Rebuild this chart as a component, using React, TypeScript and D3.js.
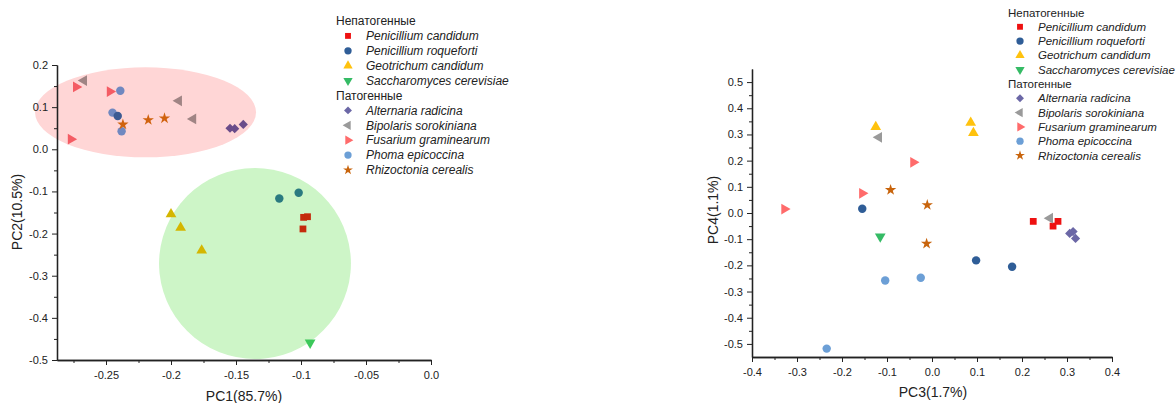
import React, { useEffect, useRef } from 'react';
import * as d3 from 'd3';

// species (legend order)
const speciesNames = [
  'Penicillium candidum',
  'Penicillium roqueforti',
  'Geotrichum candidum',
  'Saccharomyces cerevisiae',
  'Alternaria radicina',
  'Bipolaris sorokiniana',
  'Fusarium graminearum',
  'Phoma epicoccina',
  'Rhizoctonia cerealis',
];
const groupHeads = ['Непатогенные', 'Патогенные'];
const groupOf = [0, 0, 0, 0, 1, 1, 1, 1, 1];
const shapes = ['square', 'circle', 'up', 'down', 'diamond', 'left', 'right', 'circle', 'star', 'circle'];
const legendColors = ['#ee1111', '#2f5d97', '#ffc20e', '#35bb65', '#6b67a6', '#9a9a9a', '#ff6b6b', '#6c9fd6', '#c8640c'];
// left panel uses its own muted palette; index 9 = extra dark circle
const leftColors = ['#c42a0c', '#2a7a80', '#d4b600', '#3cc85a', '#6a4c8a', '#a08484', '#f45c64', '#7088c0', '#d0620e', '#3c5a92'];

// PC1 / PC2
const leftSpecies = [6, 6, 6, 5, 5, 5, 7, 7, 7, 9, 8, 8, 8, 4, 4, 4, 1, 1, 0, 0, 0, 2, 2, 2, 3];
const pc1 = [-0.273, -0.247, -0.277, -0.267, -0.194, -0.183, -0.239, -0.245, -0.238, -0.241, -0.237, -0.2175, -0.205, -0.1546, -0.151, -0.1444, -0.1167, -0.1018, -0.098, -0.095, -0.0985, -0.2, -0.1926, -0.1764, -0.093];
const pc2 = [0.148, 0.137, 0.024, 0.163, 0.115, 0.072, 0.139, 0.087, 0.043, 0.079, 0.059, 0.0695, 0.0735, 0.05, 0.049, 0.059, -0.117, -0.103, -0.1615, -0.16, -0.189, -0.154, -0.186, -0.24, -0.459];

// cluster ellipses: cx, cy, rx, ry (data units), rotation
const ellipseCx = [-0.2196, -0.1354];
const ellipseCy = [0.0877, -0.271];
const ellipseRx = [0.085, 0.0738];
const ellipseRy = [0.1068, 0.2266];
const ellipseRot = [0, -6];
const ellipseFill = ['#ffd6d6', '#cdf5c7'];

// PC3 / PC4
const rightSpecies = [0, 0, 0, 1, 1, 1, 2, 2, 2, 3, 4, 4, 4, 5, 5, 6, 6, 6, 7, 7, 7, 8, 8, 8];
const pc3 = [0.225, 0.269, 0.28, -0.155, 0.098, 0.178, -0.125, 0.086, 0.092, -0.115, 0.306, 0.3135, 0.319, -0.118, 0.262, -0.0415, -0.155, -0.328, -0.104, -0.025, -0.234, -0.092, -0.0105, -0.012];
const pc4 = [-0.032, -0.05, -0.032, 0.0165, -0.181, -0.205, 0.329, 0.345, 0.306, -0.09, -0.078, -0.071, -0.097, 0.289, -0.02, 0.1935, 0.075, 0.015, -0.258, -0.247, -0.518, 0.088, 0.0305, -0.117];

const leftXTicks = [-0.25, -0.2, -0.15, -0.1, -0.05, 0];
const leftXMinor = [-0.275, -0.225, -0.175, -0.125, -0.075, -0.025];
const leftYTicks = [-0.5, -0.4, -0.3, -0.2, -0.1, 0, 0.1, 0.2];
const leftYMinor = [-0.45, -0.35, -0.25, -0.15, -0.05, 0.05, 0.15];
const rightXTicks = [-0.4, -0.3, -0.2, -0.1, 0, 0.1, 0.2, 0.3, 0.4];
const rightXMinor = [-0.35, -0.25, -0.15, -0.05, 0.05, 0.15, 0.25, 0.35];
const rightYTicks = [-0.5, -0.4, -0.3, -0.2, -0.1, 0, 0.1, 0.2, 0.3, 0.4, 0.5];
const rightYMinor = [-0.45, -0.35, -0.25, -0.15, -0.05, 0.05, 0.15, 0.25, 0.35, 0.45];

const FONT = '"Liberation Sans", Arial, sans-serif';

const symbolPath = (shape: string, k: number) => {
  const gen = d3.symbol();
  if (shape === 'square') return { d: gen.type(d3.symbolSquare).size(46 * k)(), rot: 0 };
  if (shape === 'circle') return { d: gen.type(d3.symbolCircle).size(56 * k)(), rot: 0 };
  if (shape === 'diamond') return { d: gen.type(d3.symbolSquare).size(42 * k)(), rot: 45 };
  if (shape === 'star') return { d: gen.type(d3.symbolStar).size(40 * k)(), rot: 0 };
  const tri = gen.type(d3.symbolTriangle).size(50 * k)();
  const rot = shape === 'up' ? 0 : shape === 'down' ? 180 : shape === 'left' ? -90 : 90;
  return { d: tri, rot };
};

const fmt = (v: number) => v.toFixed(Math.abs(v * 10 - Math.round(v * 10)) > 1e-6 ? 2 : 1);

function drawAxes(g: any, x: any, y: any, xt: number[], xm: number[], yt: number[], ym: number[], h: number) {
  const style = (sel: any) => {
    sel.selectAll('text').style('font-family', FONT).style('font-size', '11px').style('fill', '#222');
    sel.selectAll('line').attr('stroke', '#222');
    sel.select('.domain').attr('stroke', '#222').attr('stroke-width', 1.3);
  };
  g.append('g').attr('transform', `translate(0,${h})`)
    .call(d3.axisBottom(x).tickValues(xm).tickSize(3).tickSizeOuter(0).tickFormat(() => ''))
    .call(style);
  g.append('g').attr('transform', `translate(0,${h})`)
    .call(d3.axisBottom(x).tickValues(xt).tickSize(5).tickPadding(6).tickSizeOuter(0).tickFormat(fmt as any))
    .call(style);
  g.append('g')
    .call(d3.axisLeft(y).tickValues(ym).tickSize(3).tickSizeOuter(0).tickFormat(() => ''))
    .call(style);
  g.append('g')
    .call(d3.axisLeft(y).tickValues(yt).tickSize(5).tickPadding(4).tickSizeOuter(0).tickFormat(fmt as any))
    .call(style);
}

const Legend = ({ x, y, step, fontSize }: { x: number; y: number; step: number; fontSize: number }) => {
  const rows: React.ReactNode[] = [];
  let row = 0;
  let lastGroup = -1;
  speciesNames.forEach((name, i) => {
    if (groupOf[i] !== lastGroup) {
      lastGroup = groupOf[i];
      rows.push(
        <text key={'h' + i} x={x} y={y + row * step} dy="0.35em" fontSize={fontSize} fill="#222">{groupHeads[lastGroup]}</text>
      );
      row++;
    }
    const s = symbolPath(shapes[i], 0.75);
    rows.push(
      <g key={i}>
        <path d={s.d!} transform={`translate(${x + 12},${y + row * step}) rotate(${s.rot})`} fill={legendColors[i]} />
        <text x={x + 30} y={y + row * step} dy="0.35em" fontSize={fontSize} fontStyle="italic" fill="#222">{name}</text>
      </g>
    );
    row++;
  });
  return <g fontFamily={FONT}>{rows}</g>;
};

export default function App() {
  const leftRef = useRef<SVGGElement>(null);
  const rightRef = useRef<SVGGElement>(null);

  // left panel geometry
  const L = { x0: 57, x1: 431, y0: 65, y1: 360 };
  const lx = d3.scaleLinear().domain([-0.2877, 0]).range([0, L.x1 - L.x0]);
  const ly = d3.scaleLinear().domain([-0.5, 0.2]).range([L.y1 - L.y0, 0]);
  // right panel geometry
  const R = { x0: 752, x1: 1112, y0: 69, y1: 357 };
  const rx = d3.scaleLinear().domain([-0.4, 0.4]).range([0, R.x1 - R.x0]);
  const ry = d3.scaleLinear().domain([-0.55, 0.55]).range([R.y1 - R.y0, 0]);

  useEffect(() => {
    const gl = d3.select(leftRef.current);
    gl.selectAll('*').remove();
    drawAxes(gl, lx, ly, leftXTicks, leftXMinor, leftYTicks, leftYMinor, L.y1 - L.y0);
    const gr = d3.select(rightRef.current);
    gr.selectAll('*').remove();
    drawAxes(gr, rx, ry, rightXTicks, rightXMinor, rightYTicks, rightYMinor, R.y1 - R.y0);
  }, []);

  const pxPerX = lx(1) - lx(0);
  const pxPerY = ly(0) - ly(1);

  return (
    <svg width={1176} height={403} style={{ position: 'absolute', left: 0, top: 0, background: '#fff' }}>
      {/* left: PC1 vs PC2 */}
      <g transform={`translate(${L.x0},${L.y0})`}>
        {ellipseCx.map((cx, i) => (
          <ellipse
            key={i}
            cx={0}
            cy={0}
            rx={ellipseRx[i] * pxPerX}
            ry={ellipseRy[i] * pxPerY}
            transform={`translate(${lx(cx)},${ly(ellipseCy[i])}) rotate(${ellipseRot[i]})`}
            fill={ellipseFill[i]}
          />
        ))}
        {pc1.map((v, i) => {
          const sp = leftSpecies[i];
          const s = symbolPath(shapes[sp], 1);
          return (
            <path key={i} d={s.d!} transform={`translate(${lx(v)},${ly(pc2[i])}) rotate(${s.rot})`} fill={leftColors[sp]} />
          );
        })}
        <g ref={leftRef} />
      </g>
      <text x={244} y={396} textAnchor="middle" dy="0.35em" fontFamily={FONT} fontSize={14} fill="#222">PC1(85.7%)</text>
      <text transform="translate(17,212) rotate(-90)" textAnchor="middle" dy="0.35em" fontFamily={FONT} fontSize={14} fill="#222">PC2(10.5%)</text>
      <Legend x={336} y={21} step={14.9} fontSize={12} />

      {/* right: PC3 vs PC4 */}
      <g transform={`translate(${R.x0},${R.y0})`}>
        {pc3.map((v, i) => {
          const sp = rightSpecies[i];
          const s = symbolPath(shapes[sp], 1);
          return (
            <path key={i} d={s.d!} transform={`translate(${rx(v)},${ry(pc4[i])}) rotate(${s.rot})`} fill={legendColors[sp]} />
          );
        })}
        <g ref={rightRef} />
      </g>
      <text x={933} y={392} textAnchor="middle" dy="0.35em" fontFamily={FONT} fontSize={14} fill="#222">PC3(1.7%)</text>
      <text transform="translate(713,210) rotate(-90)" textAnchor="middle" dy="0.35em" fontFamily={FONT} fontSize={14} fill="#222">PC4(1.1%)</text>
      <Legend x={1008} y={12.5} step={14.3} fontSize={11.5} />
    </svg>
  );
}
